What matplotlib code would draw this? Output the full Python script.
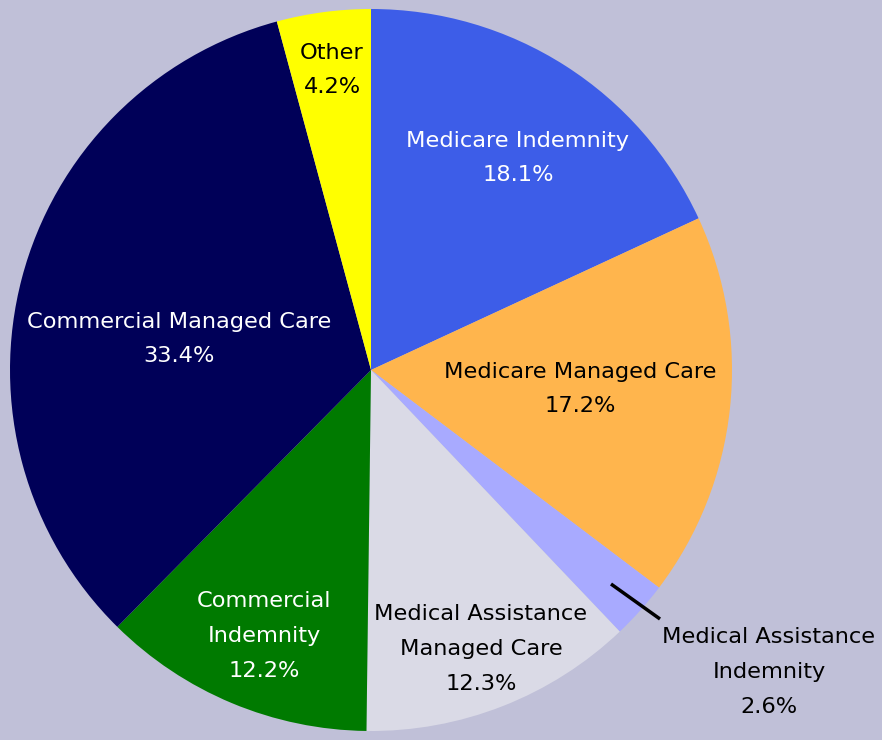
import matplotlib
matplotlib.use("Agg")
import matplotlib.pyplot as plt
import numpy as np

categories = ["Medicare Indemnity", "Medicare Managed Care", "Medical Assistance\nIndemnity",
              "Medical Assistance\nManaged Care", "Commercial\nIndemnity",
              "Commercial Managed Care", "Other"]
values = [18.1, 17.2, 2.6, 12.3, 12.2, 33.4, 4.2]
colors = ["#3D5DE8", "#FFB54D", "#A8AAFF", "#DADAE6", "#007A00", "#000058", "#FFFF00"]
text_colors = ["white", "black", "black", "black", "white", "white", "black"]

# label placement in pixel coordinates (layout only)
label_pos = [(518, 158), (580, 389), (769, 672), (481, 649), (264, 636), (179, 339), (332, 70)]

W, H = 882, 740
fig = plt.figure(figsize=(W / 100, H / 100), dpi=100, facecolor="#C0C0D8")
ax = fig.add_axes([0, 0, 1, 1])
ax.set_facecolor("#C0C0D8")

cx, cy, R = 371, H - 370, 361
ax.pie(values, colors=colors, startangle=90, counterclock=False,
       center=(cx, cy), radius=R, frame=True,
       wedgeprops=dict(linewidth=0))
ax.set_xlim(0, W)
ax.set_ylim(0, H)
ax.set_aspect("equal")
ax.axis("off")

for cat, v, (px, py), tc in zip(categories, values, label_pos, text_colors):
    ax.text(px, H - py, f"{cat}\n{v:.1f}%", ha="center", va="center",
            color=tc, fontsize=16.2, family="DejaVu Sans", linespacing=1.93)

# leader line for the small slice
ax.plot([611, 660], [H - 584, H - 619], color="black", lw=2.5, solid_capstyle="butt")

fig.savefig("out.png", dpi=100, facecolor=fig.get_facecolor())
